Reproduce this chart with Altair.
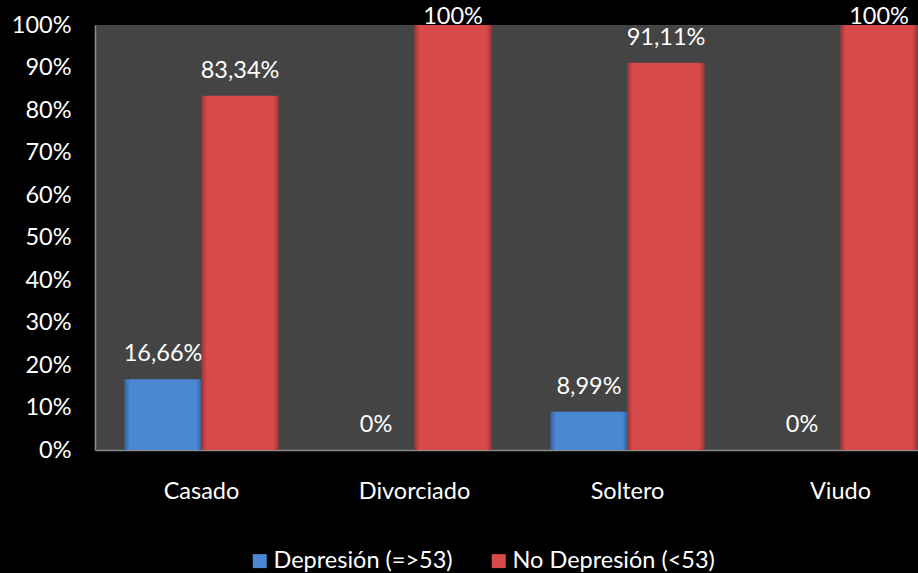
import altair as alt
import pandas as pd

# Estado civil y porcentaje de pacientes con / sin depresión
categorias = ["Casado", "Divorciado", "Soltero", "Viudo"]
depresion = [16.66, 0.0, 8.99, 0.0]
no_depresion = [83.34, 100.0, 91.11, 100.0]
series = ["Depresión (=>53)", "No Depresión (<53)"]
colores = ["#4a88d4", "#d84a4a"]


def etiqueta(v):
    txt = f"{v:.2f}".replace(".", ",")
    if txt.endswith(",00"):
        txt = txt[:-3]
    return txt + "%"


rows = []
for cat, d, n in zip(categorias, depresion, no_depresion):
    rows.append({"cat": cat, "serie": series[0], "v": d / 100, "lbl": etiqueta(d)})
    rows.append({"cat": cat, "serie": series[1], "v": n / 100, "lbl": etiqueta(n)})
df = pd.DataFrame(rows)

FONT = "Lato"
FS = 23.5

x = alt.X(
    "cat:N",
    sort=categorias,
    scale=alt.Scale(range=[0, 852], paddingInner=0.277, paddingOuter=0.1385),
    axis=alt.Axis(
        title=None,
        labelAngle=0,
        labelFontSize=FS,
        labelColor="white",
        labelFont=FONT,
        labelPadding=29,
        ticks=False,
        domainColor="#8c8c8c",
        domainWidth=1.5,
    ),
)
xoff = alt.XOffset("serie:N", sort=series, scale=alt.Scale(paddingInner=0))
y = alt.Y(
    "v:Q",
    scale=alt.Scale(domain=[0, 1]),
    axis=alt.Axis(
        title=None,
        values=[i / 10 for i in range(11)],
        format=".0%",
        labelFontSize=FS,
        labelColor="white",
        labelFont=FONT,
        labelPadding=24,
        ticks=False,
        grid=False,
        domainColor="#8c8c8c",
        domainWidth=1.5,
    ),
)

bars = alt.Chart(df).mark_bar().encode(
    x=x,
    xOffset=xoff,
    y=y,
    color=alt.Color(
        "serie:N",
        sort=series,
        scale=alt.Scale(domain=series, range=colores),
        legend=alt.Legend(
            title=None,
            orient="none",
            direction="horizontal",
            legendX=153,
            legendY=524,
            symbolType="square",
            symbolSize=196,
            symbolStrokeWidth=0,
            labelFontSize=23.5,
            labelColor="white",
            labelFont=FONT,
            labelOffset=2,
            labelLimit=0,
            columnPadding=34,
        ),
    ),
)

# sombreado lateral de las barras
shade = alt.Chart(df).mark_bar(
    color=alt.Gradient(
        gradient="linear",
        x1=0, x2=1, y1=0, y2=0,
        stops=[
            alt.GradientStop(offset=0, color="rgba(0,0,0,0.28)"),
            alt.GradientStop(offset=0.07, color="rgba(0,0,0,0.0)"),
            alt.GradientStop(offset=0.93, color="rgba(0,0,0,0.0)"),
            alt.GradientStop(offset=1, color="rgba(0,0,0,0.28)"),
        ],
    )
).encode(x=x, xOffset=xoff, y="v:Q")

labels = alt.Chart(df).transform_calculate(
    ypos="min(datum.v, 0.96)"
).mark_text(
    baseline="alphabetic", dy=-18, fontSize=FS, color="white", font=FONT
).encode(
    x=x,
    xOffset=xoff,
    y="ypos:Q",
    text="lbl:N",
)

chart = (
    alt.layer(bars, shade, labels)
    .properties(
        width=823,
        height=425,
        autosize=alt.AutoSizeParams(type="none"),
        padding={"left": 95, "top": 25, "right": 0, "bottom": 123},
        background="black",
    )
    .configure_view(fill="#444444", stroke=None)
)

chart.save("out.html", embed_options={"renderer": "svg", "actions": False})
